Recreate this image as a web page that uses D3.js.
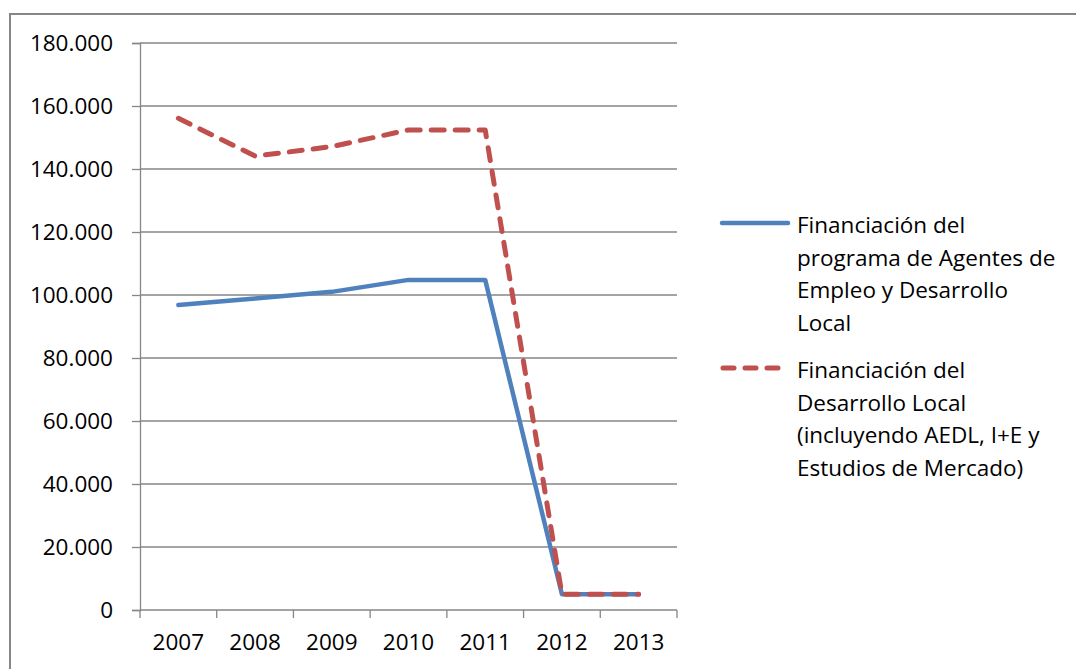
<!DOCTYPE html>
<html>
<head>
<meta charset="utf-8">
<script src="https://cdn.jsdelivr.net/npm/d3@7"></script>
<style>
  body { margin: 0; background: #fff; }
  text { font-family: "Open Sans", sans-serif; fill: #000; }
</style>
</head>
<body>
<div id="chart"></div>
<script>
var years = ["2007", "2008", "2009", "2010", "2011", "2012", "2013"];
var agentesValues = [96800, 98900, 101000, 104800, 104800, 5000, 5000];
var desarrolloValues = [156100, 144100, 147100, 152400, 152400, 5000, 5000];
var yTicks = [0, 20000, 40000, 60000, 80000, 100000, 120000, 140000, 160000, 180000];
var legendLabels = [
    ["Financiación del", "programa de Agentes de", "Empleo y Desarrollo", "Local"],
    ["Financiación del", "Desarrollo Local", "(incluyendo AEDL, I+E y", "Estudios de Mercado)"]
];

var width = 1076;
var height = 669;
var plot = {left: 140, right: 677, top: 43, bottom: 610};
var gridColor = "#868686";
var fontSize = "22.5px";

var svg = d3.select("#chart").append("svg")
    .attr("width", width)
    .attr("height", height);

// outer frame (runs off the picture on the right and bottom)
svg.append("rect")
    .attr("x", 10).attr("y", 14)
    .attr("width", 1080).attr("height", 680)
    .attr("fill", "none")
    .attr("stroke", gridColor)
    .attr("stroke-width", 2);

var x = d3.scaleBand().domain(years).range([plot.left, plot.right]).padding(0);
var y = d3.scaleLinear().domain([0, 180000]).range([plot.bottom, plot.top]);

var esFormat = d3.formatLocale({decimal: ",", thousands: ".", grouping: [3], currency: ["", " €"]}).format(",.0f");

/* horizontal gridlines */
svg.append("g").selectAll("line")
    .data(yTicks.filter(function (d) { return d > 0; }))
    .enter().append("line")
    .attr("x1", plot.left).attr("x2", plot.right)
    .attr("y1", function (d) { return y(d); })
    .attr("y2", function (d) { return y(d); })
    .attr("stroke", gridColor)
    .attr("stroke-width", 1.3);

/* y axis */
var yAxis = svg.append("g")
    .attr("transform", "translate(" + plot.left + ",0)")
    .call(d3.axisLeft(y).tickValues(yTicks).tickSize(8).tickPadding(19).tickFormat(esFormat));
yAxis.select(".domain").attr("stroke", gridColor).attr("stroke-width", 1.3);
yAxis.selectAll(".tick line").attr("stroke", gridColor).attr("stroke-width", 1.3);
yAxis.selectAll(".tick text").attr("font-size", fontSize).attr("dy", "0.35em")
    .style("font-family", "'Open Sans', sans-serif").attr("fill", "#000");

/* x axis: ticks between categories */
var xg = svg.append("g");
xg.append("line")
    .attr("x1", plot.left).attr("x2", plot.right)
    .attr("y1", y(0)).attr("y2", y(0))
    .attr("stroke", gridColor).attr("stroke-width", 1.3);
var bounds = years.map(function (d) { return x(d); }).concat([x(years[years.length - 1]) + x.bandwidth()]);
xg.selectAll("line.tk")
    .data(bounds)
    .enter().append("line")
    .attr("class", "tk")
    .attr("x1", function (d) { return d; }).attr("x2", function (d) { return d; })
    .attr("y1", y(0)).attr("y2", y(0) + 8)
    .attr("stroke", gridColor).attr("stroke-width", 1.3);
xg.selectAll("text")
    .data(years)
    .enter().append("text")
    .attr("x", function (d) { return x(d) + x.bandwidth() / 2; })
    .attr("y", 650)
    .attr("text-anchor", "middle")
    .attr("font-size", fontSize)
    .text(function (d) { return d; });

/* lines */
function cx(i) { return x(years[i]) + x.bandwidth() / 2; }
var line = d3.line()
    .x(function (d, i) { return cx(i); })
    .y(function (d) { return y(d); });

svg.append("path")
    .datum(agentesValues)
    .attr("d", line)
    .attr("fill", "none")
    .attr("stroke", "#4F81BD")
    .attr("stroke-width", 4.5)
    .attr("stroke-linejoin", "round")
    .attr("stroke-linecap", "round");

svg.append("path")
    .datum(desarrolloValues)
    .attr("d", line)
    .attr("fill", "none")
    .attr("stroke", "#C0504D")
    .attr("stroke-width", 5)
    .attr("stroke-dasharray", "13,11")
    .attr("stroke-linejoin", "round")
    .attr("stroke-linecap", "round");

/* legend */
var legendTop = [225, 370];
var lineGap = 32.7;
var legend = svg.append("g");
legend.append("line")
    .attr("x1", 722).attr("x2", 788)
    .attr("y1", legendTop[0] - 2).attr("y2", legendTop[0] - 2)
    .attr("stroke", "#4F81BD").attr("stroke-width", 4.5).attr("stroke-linecap", "round");
legend.append("line")
    .attr("x1", 723).attr("x2", 782)
    .attr("y1", legendTop[1] - 2).attr("y2", legendTop[1] - 2)
    .attr("stroke", "#C0504D").attr("stroke-width", 5)
    .attr("stroke-dasharray", "11,11").attr("stroke-linecap", "round");

legendLabels.forEach(function (lines, k) {
    legend.selectAll("text.l" + k)
        .data(lines)
        .enter().append("text")
        .attr("class", "l" + k)
        .attr("x", 797)
        .attr("y", function (d, i) { return legendTop[k] + i * lineGap; })
        .attr("dy", "0.35em")
        .attr("font-size", fontSize)
        .text(function (d) { return d; });
});
</script>
</body>
</html>
